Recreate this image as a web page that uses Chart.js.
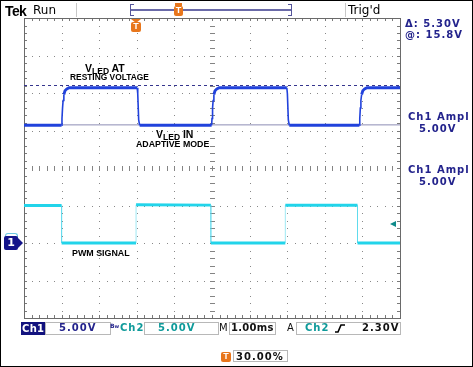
<!DOCTYPE html>
<html><head><meta charset="utf-8">
<script src="https://cdn.jsdelivr.net/npm/chart.js@4"></script>
<style>
body{margin:0;background:#fff;}
#wrap{position:relative;width:473px;height:367px;overflow:hidden;background:#fff;font-family:"DejaVu Sans",sans-serif;}
canvas{position:absolute;left:0;top:0;}
.t{position:absolute;white-space:nowrap;line-height:1;}
.nv{color:#23238c;font-weight:bold;font-size:10px;letter-spacing:1px;}
.tl{color:#0e9a9a;font-weight:bold;font-size:10px;letter-spacing:1px;}
.bk{color:#111;font-weight:bold;font-size:10px;letter-spacing:1px;}
.ann{font-family:"Liberation Sans",Arial,sans-serif;font-weight:bold;color:#000;}
.box{position:absolute;border:1px solid #b8b8b8;box-sizing:border-box;background:#fff;}
.sep{position:absolute;width:1px;background:#c8c8c8;}
.tmark{position:absolute;background:#e8761c;color:#fff;font:bold 9px "Liberation Sans",Arial,sans-serif;text-align:center;line-height:9px;border-radius:2px;}
#frame{position:absolute;left:0;top:0;width:473px;height:367px;border:1px solid #000;box-sizing:border-box;pointer-events:none;}
</style></head><body>
<div id="wrap">
<canvas id="c" width="473" height="367"></canvas>

<!-- top bar -->
<div class="t" style="left:5px;top:3px;font:bold 14px 'Liberation Sans',Arial,sans-serif;letter-spacing:-0.6px;color:#000;">Tek</div>
<div class="t" style="left:33px;top:4.3px;font-size:12px;color:#000;">Run</div>
<div class="sep" style="left:76px;top:3px;height:14px;"></div>
<div class="sep" style="left:345px;top:3px;height:14px;"></div>
<div class="t" style="left:348px;top:4.3px;font-size:12px;color:#000;">Trig'd</div>
<div style="position:absolute;left:130px;top:4px;width:162px;height:12px;border-left:1.5px solid #55559a;border-right:1.5px solid #55559a;box-sizing:border-box;"></div>
<div style="position:absolute;left:130px;top:4px;width:4px;height:1px;background:#55559a;"></div>
<div style="position:absolute;left:130px;top:15px;width:4px;height:1px;background:#55559a;"></div>
<div style="position:absolute;left:288px;top:4px;width:4px;height:1px;background:#55559a;"></div>
<div style="position:absolute;left:288px;top:15px;width:4px;height:1px;background:#55559a;"></div>
<div style="position:absolute;left:131px;top:9px;width:160px;height:2px;background:#6a6aa8;"></div>
<div style="position:absolute;left:175px;top:3px;width:7px;height:3px;background:#e8761c;"></div>
<div class="tmark" style="left:174px;top:6px;width:9px;height:10px;">T</div>

<!-- trigger position marker on graticule -->
<div style="position:absolute;left:131px;top:19px;width:0;height:0;border-left:5px solid transparent;border-right:5px solid transparent;border-top:4px solid #e8761c;"></div>
<div class="tmark" style="left:131px;top:22px;width:10px;height:10px;">T</div>

<!-- right panel -->
<div class="t nv" style="left:405px;top:18.5px;">Δ: 5.30V</div>
<div class="t nv" style="left:405px;top:30px;">@: 15.8V</div>
<div class="t nv" style="left:408px;top:111.5px;">Ch1 Ampl</div>
<div class="t nv" style="left:419px;top:124px;">5.00V</div>
<div class="t nv" style="left:408px;top:164.5px;">Ch1 Ampl</div>
<div class="t nv" style="left:419px;top:177px;">5.00V</div>

<!-- ground marker 1 -->
<div style="position:absolute;left:5px;top:233px;width:13px;height:12px;border:1px solid #6cc8e0;border-bottom:none;border-radius:3px 3px 0 0;box-sizing:border-box;"></div>
<div style="position:absolute;left:4px;top:236px;width:14px;height:14px;background:#14148a;border-radius:2px;color:#fff;font:bold 11px 'DejaVu Sans',sans-serif;text-align:center;line-height:14px;">1</div>
<div style="position:absolute;left:18px;top:238px;width:0;height:0;border-top:5px solid transparent;border-bottom:5px solid transparent;border-left:5px solid #14148a;"></div>

<!-- trigger level arrow -->
<div style="position:absolute;left:390px;top:221px;width:0;height:0;border-top:3px solid transparent;border-bottom:3px solid transparent;border-right:6px solid #0e8a8a;"></div>

<!-- annotations -->
<div class="t ann" style="left:85px;top:63px;font-size:10.5px;">V<span style="font-size:8.5px;position:relative;top:1.5px;">LED</span> AT</div>
<div class="t ann" style="left:70px;top:73px;font-size:8.4px;">RESTING VOLTAGE</div>
<div class="t ann" style="left:156px;top:129px;font-size:10.5px;">V<span style="font-size:8.5px;position:relative;top:1.5px;">LED</span> IN</div>
<div class="t ann" style="left:136px;top:139.5px;font-size:8.8px;">ADAPTIVE MODE</div>
<div class="t ann" style="left:72px;top:248.5px;font-size:8.9px;">PWM SIGNAL</div>

<!-- bottom status bar -->
<div style="position:absolute;left:21px;top:322px;width:24px;height:13px;background:#12127e;"></div>
<div class="t" style="left:22px;top:323.5px;color:#fff;font-weight:bold;font-size:10px;letter-spacing:0.3px;">Ch1</div>
<div class="box" style="left:45px;top:322px;width:66px;height:13px;"></div>
<div class="t nv" style="left:59px;top:322.5px;">5.00V</div>
<div class="t" style="left:110px;top:323px;font-size:6px;color:#23238c;font-weight:bold;">B<span style="font-size:5px;">w</span></div>
<div class="t tl" style="left:120px;top:322.5px;">Ch2</div>
<div class="box" style="left:144px;top:322px;width:75px;height:13px;"></div>
<div class="t tl" style="left:158px;top:322.5px;">5.00V</div>
<div class="t bk" style="left:219px;top:322.5px;font-weight:normal;letter-spacing:0;">M</div>
<div class="box" style="left:229px;top:322px;width:47px;height:13px;"></div>
<div class="t bk" style="left:231px;top:322.5px;letter-spacing:0.3px;">1.00ms</div>
<div class="t bk" style="left:287px;top:322.5px;font-weight:normal;letter-spacing:0;">A</div>
<div class="box" style="left:296px;top:322px;width:105px;height:13px;"></div>
<div class="t tl" style="left:305px;top:322.5px;">Ch2</div>
<svg style="position:absolute;left:334px;top:323px;" width="12" height="11"><path d="M1 9 L4 9 L7 2 L11 2" stroke="#000" stroke-width="1.6" fill="none"/></svg>
<div class="t bk" style="left:362px;top:322.5px;">2.30V</div>

<!-- bottom trigger percentage -->
<div class="tmark" style="left:221px;top:352px;width:10px;height:10px;">T</div>
<div class="box" style="left:233px;top:350px;width:55px;height:12px;"></div>
<div class="t bk" style="left:236px;top:351.5px;">30.00%</div>

<div id="frame"></div>
</div>
<script>
// ---- data (time in ms relative to trigger, values in volts) ----
const xGridMs = [-3, -2, -1, 0, 1, 2, 3, 4, 5, 6, 7];
const yGridV = [-10, -5, 0, 5, 10, 15, 20, 25, 30];
const xCenterMs = 2;
const yCenterV = 10;

// Ch1: VLED (blue)
const ch1Time = [-3, -2.0, -1.99, -1.975, -1.96, -1.94, -1.91, -1.86, -1.80, 0.01, 0.025, 0.05, 0.075,
                 1.99, 2.0, 2.015, 2.03, 2.05, 2.08, 2.13, 2.19, 3.99, 4.005, 4.03, 4.055,
                 5.92, 5.93, 5.945, 5.96, 5.98, 6.01, 6.06, 6.12, 7];
const ch1Volt = [15.7, 15.7, 16.6, 18.0, 19.0, 19.8, 20.3, 20.55, 20.7, 20.7, 19.9, 16.4, 15.7,
                 15.7, 16.6, 18.0, 19.0, 19.8, 20.3, 20.55, 20.7, 20.7, 19.9, 16.4, 15.7,
                 15.7, 16.6, 18.0, 19.0, 19.8, 20.3, 20.55, 20.7, 20.7];

// Ch2: PWM signal (cyan)
const ch2Time = [-3, -2.0, -2.0, -0.02, -0.02, 1.97, 1.97, 3.95, 3.95, 5.87, 5.87, 7];
const ch2Volt = [5.0, 5.0, 0, 0, 5.1, 5.05, 0, 0, 5.05, 5.05, 0, 0];

// Cursors
const cursorUpperV = 21.0;
const cursorLowerV = 15.75;

const pts = (xs, ys) => xs.map((x, i) => ({x, y: ys[i]}));
const line = (v) => [{x: xGridMs[0], y: v}, {x: xGridMs[xGridMs.length - 1], y: v}];

const graticule = {
  id: 'graticule',
  beforeDatasetsDraw(chart) {
    const {ctx, chartArea: a, scales: {x, y}} = chart;
    const xMin = xGridMs[0], xMax = xGridMs[xGridMs.length - 1];
    const yMin = yGridV[0], yMax = yGridV[yGridV.length - 1];
    const minorX = [], minorY = [];
    for (let v = xMin; v <= xMax + 1e-9; v += 0.2) minorX.push(Math.round(x.getPixelForValue(v)));
    for (let v = yMin; v <= yMax + 1e-9; v += 1) minorY.push(Math.round(y.getPixelForValue(v)));
    ctx.save();
    ctx.fillStyle = '#888888';
    xGridMs.forEach(v => {
      const px = Math.round(x.getPixelForValue(v));
      minorY.forEach(py => ctx.fillRect(px, py, 1, 1));
    });
    yGridV.forEach(v => {
      const py = Math.round(y.getPixelForValue(v));
      minorX.forEach(px => ctx.fillRect(px, py, 1, 1));
    });
    // center cross ticks
    const cx = Math.round(x.getPixelForValue(xCenterMs));
    const cy = Math.round(y.getPixelForValue(yCenterV));
    ctx.fillStyle = '#848484';
    minorX.forEach(px => ctx.fillRect(px, cy - 2, 1, 5));
    minorY.forEach(py => ctx.fillRect(cx - 2, py, 5, 1));
    // edge ticks
    ctx.fillStyle = '#7a7a7a';
    const L = Math.round(a.left), R = Math.round(a.right), T = Math.round(a.top), B = Math.round(a.bottom);
    minorX.forEach(px => { ctx.fillRect(px, T, 1, 3); ctx.fillRect(px, B - 3, 1, 3); });
    minorY.forEach(py => { ctx.fillRect(L, py, 3, 1); ctx.fillRect(R - 3, py, 3, 1); });
    ctx.strokeStyle = '#6a6a6a';
    ctx.lineWidth = 1;
    ctx.strokeRect(L + 0.5, T + 0.5, R - L, B - T);
    ctx.restore();
  }
};

new Chart(document.getElementById('c'), {
  type: 'line',
  data: {
    datasets: [
      {data: pts(ch1Time, ch1Volt), borderColor: '#2142dc', borderWidth: 2.8, order: 0,
       segment: {borderWidth: c => Math.abs(c.p1.parsed.y - c.p0.parsed.y) > 0.5 ? 1.6 : undefined}},
      {data: pts(ch2Time, ch2Volt), borderColor: '#22d4ea', borderWidth: 3, order: 1,
       segment: {
         borderWidth: c => c.p0.parsed.x === c.p1.parsed.x ? 1 : undefined,
         borderColor: c => c.p0.parsed.x === c.p1.parsed.x ? 'rgba(80,215,235,0.55)' : undefined
       }},
      {data: line(cursorUpperV), borderColor: '#35358e', borderWidth: 1, borderDash: [3, 3], order: 2},
      {data: line(cursorLowerV), borderColor: '#8c8cb4', borderWidth: 1, order: 3}
    ]
  },
  options: {
    responsive: false,
    animation: false,
    devicePixelRatio: 1,
    layout: {padding: {left: 24, right: 73, top: 18, bottom: 49}},
    elements: {point: {radius: 0}, line: {tension: 0, borderJoinStyle: 'miter'}},
    plugins: {legend: {display: false}, tooltip: {enabled: false}},
    scales: {
      x: {type: 'linear', min: xGridMs[0], max: xGridMs[xGridMs.length - 1], display: false},
      y: {type: 'linear', min: yGridV[0], max: yGridV[yGridV.length - 1], display: false}
    }
  },
  plugins: [graticule]
});
</script>
</body></html>
